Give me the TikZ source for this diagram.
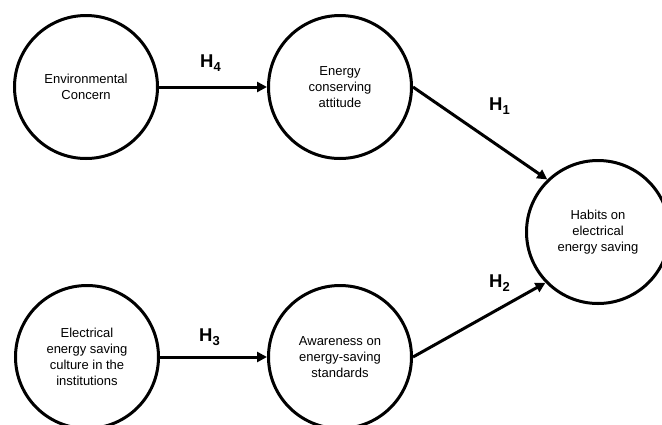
\documentclass[tikz,border=0pt]{standalone}
\usepackage{fontspec}
\setmainfont{Liberation Sans}
\usetikzlibrary{arrows.meta}
\begin{document}
\begin{tikzpicture}[x=1pt,y=-1pt,
  construct/.style={circle,draw,line width=3pt,minimum size=143pt,inner sep=0pt,align=center,font=\fontsize{13}{16}\selectfont},
  path/.style={line width=3pt,-{Triangle[length=10pt,width=10pt]}},
  hyp/.style={anchor=base west,inner sep=0pt,font=\bfseries\fontsize{18.5}{20}\selectfont}]
\useasboundingbox (0,0) rectangle (662,424);
\node[construct] (ec) at (86,87) {Environmental\\Concern};
\node[construct] (eca) at (340,87) {Energy\\conserving\\attitude};
\node[construct] (hab) at (598,232) {Habits on\\electrical\\energy saving};
\node[construct] (cult) at (87,357) {Electrical\\energy saving\\culture in the\\institutions};
\node[construct] (aw) at (340,357) {Awareness on\\energy-saving\\standards};
\draw[path] (ec.east) -- (eca.west);
\draw[path] (cult.east) -- (aw.west);
\draw[path] (eca.east) -- (hab.134);
\draw[path] (aw.east) -- (hab.224);
\newcommand{\hsub}[1]{H\raisebox{-4.5pt}{\fontsize{13}{13}\selectfont #1}}
\node[hyp] (h4) at (200,67) {\hsub{4}};
\node[hyp] (h1) at (489,110) {\hsub{1}};
\node[hyp] (h3) at (199,341) {\hsub{3}};
\node[hyp] (h2) at (489,287) {\hsub{2}};
\end{tikzpicture}
\end{document}
